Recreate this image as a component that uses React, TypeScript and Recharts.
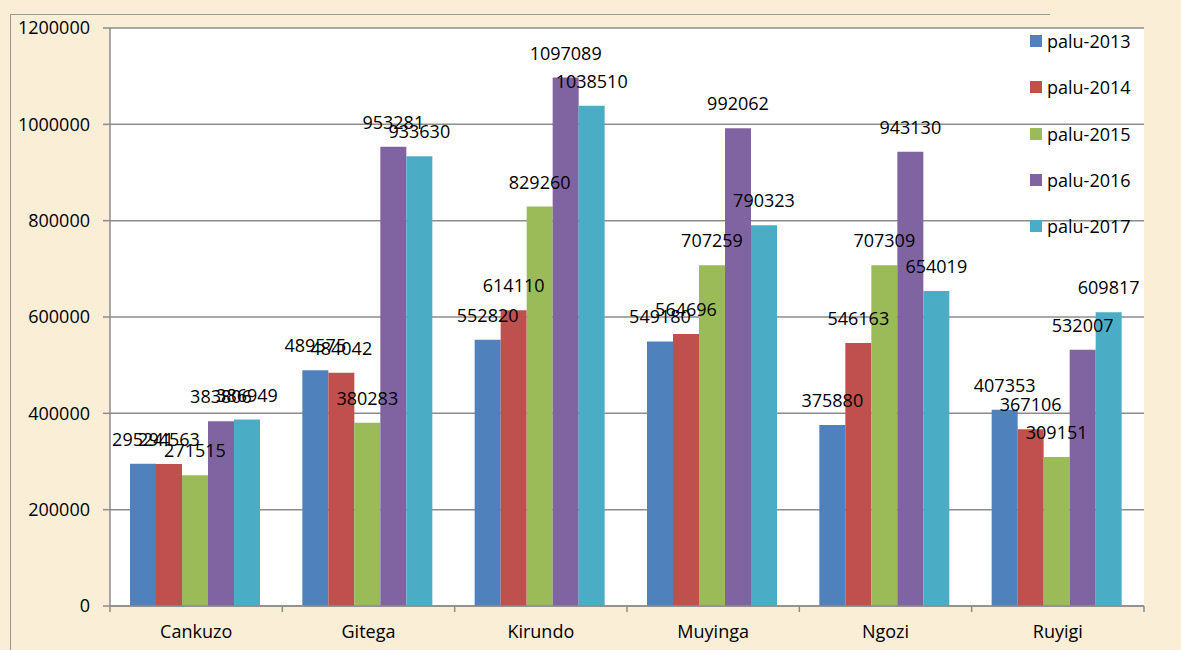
import { Bar, BarChart, CartesianGrid, LabelList, XAxis, YAxis } from "recharts";

const CATEGORIES = ["Cankuzo", "Gitega", "Kirundo", "Muyinga", "Ngozi", "Ruyigi"];

const PALU_2013 = [295241, 489575, 552820, 549180, 375880, 407353];
const PALU_2014 = [294563, 484042, 614110, 564696, 546163, 367106];
const PALU_2015 = [271515, 380283, 829260, 707259, 707309, 309151];
const PALU_2016 = [383806, 953281, 1097089, 992062, 943130, 532007];
const PALU_2017 = [386949, 933630, 1038510, 790323, 654019, 609817];

const Y_TICKS = [0, 200000, 400000, 600000, 800000, 1000000, 1200000];

const SERIES = [
  { key: "palu-2013", values: PALU_2013, color: "#4f81bd" },
  { key: "palu-2014", values: PALU_2014, color: "#c0504d" },
  { key: "palu-2015", values: PALU_2015, color: "#9bbb59" },
  { key: "palu-2016", values: PALU_2016, color: "#8064a2" },
  { key: "palu-2017", values: PALU_2017, color: "#4bacc6" },
];

const data = CATEGORIES.map((name, i) => {
  const row: Record<string, string | number> = { name };
  SERIES.forEach((s) => (row[s.key] = s.values[i]));
  return row;
});

const FONT = "'Open Sans', sans-serif";
const GRID = "#8c8c8c";
const BG = "#fbeed7";

function CategoryTick(props: any) {
  const { x, y, payload, index } = props;
  const half = payload?.offset || 86;
  const last = index === CATEGORIES.length - 1;
  return (
    <g>
      <line x1={x - half} x2={x - half} y1={y} y2={y + 6} stroke={GRID} strokeWidth={1.5} />
      {last && <line x1={x + half} x2={x + half} y1={y} y2={y + 6} stroke={GRID} strokeWidth={1.5} />}
      <text x={x} y={y + 32} textAnchor="middle" fontSize={18} fontFamily={FONT} fill="#000">
        {payload.value}
      </text>
    </g>
  );
}

function LegendBox() {
  return (
    <div style={{ position: "absolute", left: 1030, top: 18, fontFamily: FONT, fontSize: 18, color: "#000" }}>
      {SERIES.map((s) => (
        <div key={s.key} style={{ display: "flex", alignItems: "center", height: 46.3 }}>
          <span style={{ width: 12, height: 12, background: s.color, marginRight: 5, display: "inline-block" }} />
          <span>{s.key}</span>
        </div>
      ))}
    </div>
  );
}

export default function App() {
  return (
    <div style={{ position: "absolute", left: 0, top: 0, width: 1181, height: 650, background: BG, overflow: "hidden" }}>
      <div style={{ position: "absolute", left: 10, top: 14, width: 1040, height: 0, borderTop: "1.5px solid #999" }} />
      <div style={{ position: "absolute", left: 10, top: 14, width: 0, height: 640, borderLeft: "1.5px solid #999" }} />
      <BarChart
        width={1181}
        height={650}
        data={data}
        margin={{ top: 28, right: 37, bottom: 0, left: 10 }}
        barCategoryGap={20}
        barGap={0}
      >
        <CartesianGrid vertical={false} stroke={GRID} strokeWidth={1.5} fill="#ffffff" fillOpacity={1} />
        <XAxis
          dataKey="name"
          height={44}
          tickLine={false}
          tickSize={0}
          tickMargin={0}
          axisLine={{ stroke: GRID, strokeWidth: 1.5 }}
          tick={<CategoryTick />}
          interval={0}
        />
        <YAxis
          width={100}
          domain={[0, 1200000]}
          ticks={Y_TICKS}
          interval={0}
          tickSize={7}
          tickMargin={13}
          axisLine={{ stroke: GRID, strokeWidth: 1.5 }}
          tickLine={{ stroke: GRID, strokeWidth: 1.5 }}
          tick={{ fill: "#000", fontSize: 18, fontFamily: FONT }}
        />
        {SERIES.map((s) => (
          <Bar key={s.key} dataKey={s.key} fill={s.color} isAnimationActive={false}>
            <LabelList
              dataKey={s.key}
              position="top"
              offset={18}
              fill="#000"
              fontSize={18}
              fontFamily={FONT}
            />
          </Bar>
        ))}
      </BarChart>
      <LegendBox />
    </div>
  );
}
